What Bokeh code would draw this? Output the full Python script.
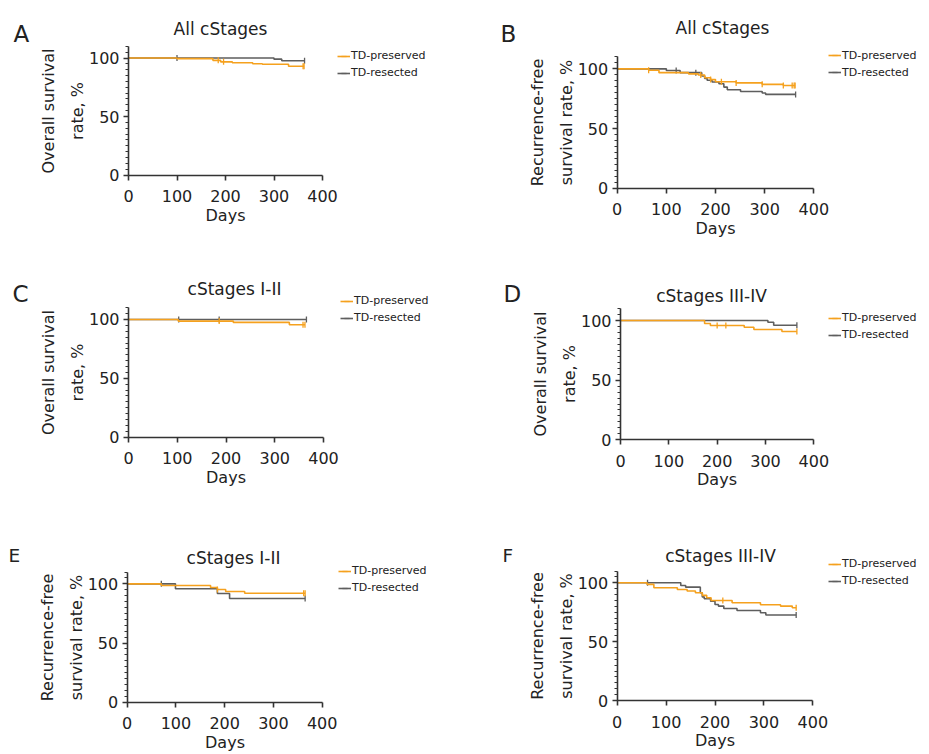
import numpy as np
from bokeh.plotting import figure
from bokeh.models import Range1d, FixedTicker, Legend, LegendItem, LinearAxis, Label
from bokeh.layouts import column, row
from bokeh.embed import file_html
from bokeh.resources import INLINE

# ------------------------------------------------------------------ data
x_ticks = [0, 100, 200, 300, 400]
y_ticks = [0, 50, 100]
y_minor_ticks = list(range(0, 111, 5))
x_bounds = (0, 400)
y_bounds = (0, 110)
series_names = ["TD-preserved", "TD-resected"]
letters = ["A", "B", "C", "D", "E", "F"]
titles = ["All cStages", "All cStages", "cStages I-II", "cStages III-IV", "cStages I-II", "cStages III-IV"]
ylabels = ["Overall survival\nrate, %", "Recurrence-free\nsurvival rate, %",
           "Overall survival\nrate, %", "Overall survival\nrate, %",
           "Recurrence-free\nsurvival rate, %", "Recurrence-free\nsurvival rate, %"]

# Panel A: overall survival, all cStages
A_pres_days = [0, 100, 174, 190, 214, 256, 276, 330, 362]
A_pres_surv = [100, 99.5, 98.0, 96.7, 96.0, 95.1, 94.6, 93.0, 93.0]
A_pres_cens = [185, 196, 360, 362]
A_res_days = [0, 300, 316, 363]
A_res_surv = [100, 99.0, 97.7, 97.7]
A_res_cens = [100, 363]

# Panel B: recurrence-free survival, all cStages
B_pres_days = [0, 64, 85, 145, 165, 178, 190, 200, 242, 295, 338, 362]
B_pres_surv = [100, 98.8, 96.8, 95.8, 94.8, 92.5, 91.0, 89.2, 88.2, 87.0, 86.0, 86.0]
B_pres_cens = [64, 170, 190, 212, 242, 295, 338, 356, 360, 362]
B_res_days = [0, 100, 128, 172, 178, 183, 193, 207, 217, 224, 251, 295, 302, 363]
B_res_surv = [100, 98.6, 96.8, 94.0, 92.0, 90.5, 89.0, 87.5, 84.7, 82.5, 81.0, 79.7, 78.6, 78.6]
B_res_cens = [120, 160, 363]

# Panel C: overall survival, cStages I-II
C_pres_days = [0, 102, 215, 330, 362]
C_pres_surv = [100, 98.6, 97.5, 95.5, 95.5]
C_pres_cens = [186, 358, 362]
C_res_days = [0, 365]
C_res_surv = [100, 100]
C_res_cens = [103, 186, 365]

# Panel D: overall survival, cStages III-IV
D_pres_days = [0, 174, 186, 256, 276, 334, 365]
D_pres_surv = [100, 97.5, 95.8, 94.4, 92.5, 90.8, 90.8]
D_pres_cens = [200, 218, 365]
D_res_days = [0, 305, 317, 365]
D_res_surv = [100, 98.6, 96.1, 96.1]
D_res_cens = [365]

# Panel E: recurrence-free survival, cStages I-II
E_pres_days = [0, 70, 171, 185, 202, 241, 365]
E_pres_surv = [100, 98.6, 96.9, 95.2, 93.5, 92.1, 92.1]
E_pres_cens = [185, 362, 365]
E_res_days = [0, 99, 185, 210, 365]
E_res_surv = [100, 95.8, 91.8, 87.6, 87.6]
E_res_cens = [70, 365]

# Panel F: recurrence-free survival, cStages III-IV
F_pres_days = [0, 61, 75, 123, 143, 160, 174, 183, 192, 235, 293, 334, 358, 366]
F_pres_surv = [100, 98.6, 95.8, 94.3, 93.0, 91.5, 89.3, 87.3, 85.0, 83.0, 81.3, 80.2, 78.8, 78.8]
F_pres_cens = [216, 366]
F_res_days = [0, 130, 140, 170, 174, 178, 191, 200, 207, 218, 245, 293, 304, 366]
F_res_surv = [100, 97.7, 96.3, 91.5, 88.0, 86.4, 84.4, 81.6, 80.2, 78.2, 76.5, 74.6, 72.6, 72.6]
F_res_cens = [62, 366]

panel_data = [
    (A_pres_days, A_pres_surv, A_pres_cens, A_res_days, A_res_surv, A_res_cens),
    (B_pres_days, B_pres_surv, B_pres_cens, B_res_days, B_res_surv, B_res_cens),
    (C_pres_days, C_pres_surv, C_pres_cens, C_res_days, C_res_surv, C_res_cens),
    (D_pres_days, D_pres_surv, D_pres_cens, D_res_days, D_res_surv, D_res_cens),
    (E_pres_days, E_pres_surv, E_pres_cens, E_res_days, E_res_surv, E_res_cens),
    (F_pres_days, F_pres_surv, F_pres_cens, F_res_days, F_res_surv, F_res_cens),
]

# ------------------------------------------------------------------ layout / style
FONT = "DejaVu Sans"
ORANGE = "#F5A11E"
GRAY = "#5E5E5E"
AXIS = "#333333"
TEXT = "#222222"

COL_X = [0, 460]
COL_W = [460, 469]
ROW_Y = [0, 262, 517]
ROW_H = [262, 255, 235]
# axis box in page px: x of day 0, x of day 400, y of 110 %, y of 0 %
axis_box = [
    (128, 322, 45.8, 174.5),
    (616.7, 813.3, 56.4, 187.7),
    (128, 323, 307.2, 436.7),
    (620, 813.3, 308.1, 439.3),
    (126.7, 321.7, 571.5, 701.7),
    (616.7, 812.3, 570.5, 700),
]
letter_pos = [(13, 33.5, 23), (500, 33.5, 23), (12, 293, 23), (503, 293.5, 23), (8, 555, 18.5), (502, 555, 18.5)]
title_pos = [(220, 28.5), (722, 27), (234, 288.5), (711, 295), (233, 557), (720, 555)]
legend_pos = [(337, 55, 72.5), (828, 55, 72), (340, 300, 317.5), (828, 317, 334.5), (338, 570, 587.5), (828, 562.5, 580.5)]


def surv_at(days, surv, t):
    idx = int(np.searchsorted(days, t, side="right")) - 1
    return surv[idx]


def make_panel(i):
    c, r = i % 2, i // 2
    x0, y0, W, H = COL_X[c], ROW_Y[r], COL_W[c], ROW_H[r]
    ax0, ax1, ay1, ay0 = axis_box[i]
    ppx = (ax1 - ax0) / (x_bounds[1] - x_bounds[0])
    ppy = (ay0 - ay1) / (y_bounds[1] - y_bounds[0])
    xs = x_bounds[0] - (ax0 - x0) / ppx
    ys = y_bounds[0] - (y0 + H - ay0) / ppy

    p = figure(width=W, height=H,
               x_range=Range1d(xs, xs + W / ppx), y_range=Range1d(ys, ys + H / ppy),
               output_backend="svg", toolbar_location=None, title=None,
               x_axis_location=None, y_axis_location=None,
               min_border=0, min_border_left=0, min_border_right=0,
               min_border_top=0, min_border_bottom=0)
    p.outline_line_color = None
    p.grid.visible = False

    xax = LinearAxis(fixed_location=0, bounds=x_bounds, ticker=FixedTicker(ticks=x_ticks))
    yax = LinearAxis(fixed_location=0, bounds=y_bounds,
                     ticker=FixedTicker(ticks=y_ticks, minor_ticks=y_minor_ticks))
    for ax in (xax, yax):
        ax.axis_line_color = AXIS
        ax.axis_line_width = 1.6
        ax.major_tick_line_color = AXIS
        ax.major_tick_line_width = 1.6
        ax.major_tick_out = 5
        ax.major_tick_in = 0
        ax.major_label_text_font = FONT
        ax.major_label_text_font_size = "16px"
        ax.major_label_text_color = TEXT
        ax.axis_label_text_font = FONT
        ax.axis_label_text_font_style = "normal"
        ax.axis_label_text_color = TEXT
        ax.axis_label_text_font_size = "16px"

    xax.minor_tick_line_color = None
    xax.major_label_standoff = 10
    xax.axis_label = "Days"
    xax.axis_label_standoff = 0

    yax.minor_tick_line_color = AXIS
    yax.minor_tick_line_width = 1.2
    yax.minor_tick_out = 3
    yax.minor_tick_in = 0
    yax.major_label_standoff = 4
    yax.axis_label = ylabels[i]
    yax.axis_label_text_line_height = 1.55
    yax.axis_label_standoff = -1

    p.add_layout(xax, "below")
    p.add_layout(yax, "left")

    pd_, ps_, pc_, rd_, rs_, rc_ = panel_data[i]
    groups = [(rd_, rs_, rc_, GRAY, series_names[1]), (pd_, ps_, pc_, ORANGE, series_names[0])]
    rend = {}
    for days, surv, cens, col, name in groups:
        st = p.step(days, surv, mode="after", line_color=col, line_width=1.6)
        cy = [surv_at(days, surv, t) for t in cens]
        sc = p.scatter(cens, cy, marker="dash", angle=np.pi / 2, size=6,
                       line_color=col, line_width=1.3)
        rend[name] = [st, sc]
    items = [LegendItem(label=series_names[0], renderers=rend[series_names[0]]),
             LegendItem(label=series_names[1], renderers=rend[series_names[1]])]

    gx, r1, r2 = legend_pos[i]
    leg = Legend(items=items, location=(gx - x0, (y0 + H) - (r2 + 7)), orientation="vertical",
                 border_line_color=None, background_fill_alpha=0,
                 label_text_font=FONT, label_text_font_size="11px", label_text_color=TEXT,
                 glyph_width=13, glyph_height=14, label_height=14, spacing=3,
                 padding=0, margin=0, label_standoff=1)
    p.add_layout(leg, "center")

    lx, ly, ls = letter_pos[i]
    p.add_layout(Label(x=lx - x0, y=(y0 + H) - ly, x_units="screen", y_units="screen",
                       text=letters[i], text_font=FONT, text_font_size=f"{ls}px", text_color=TEXT,
                       text_align="left", text_baseline="alphabetic"))
    tx, ty = title_pos[i]
    p.add_layout(Label(x=tx - x0, y=(y0 + H) - ty, x_units="screen", y_units="screen",
                       text=titles[i], text_font=FONT, text_font_size="17px", text_color=TEXT,
                       text_align="center", text_baseline="alphabetic"))
    return p


panels = [make_panel(i) for i in range(6)]
layout = column(row(panels[0], panels[1], spacing=0),
                row(panels[2], panels[3], spacing=0),
                row(panels[4], panels[5], spacing=0), spacing=0)

open("out.html", "w").write(file_html(layout, INLINE))
